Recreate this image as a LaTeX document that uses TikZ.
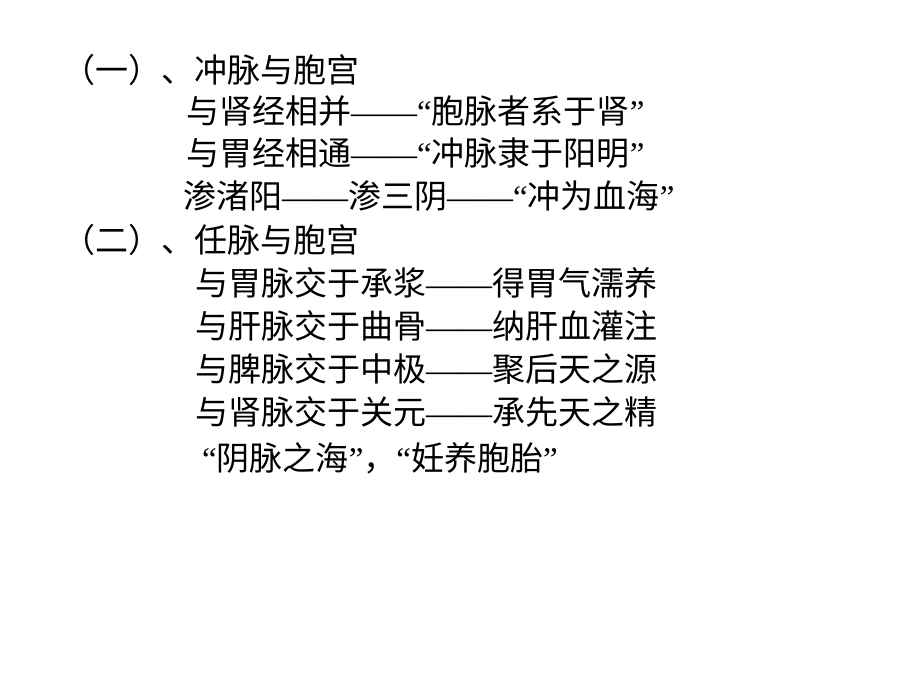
\documentclass[tikz,border=0pt]{standalone}
\usepackage{fontspec}
\setmainfont{Liberation Serif}
\newfontfamily\cjk{Noto Sans CJK SC}
\usetikzlibrary{positioning}
\newcommand{\dsh}{{\rmfamily ——}}
\newcommand{\oq}{{\rmfamily “}}
\newcommand{\cq}{{\rmfamily ”}}

\begin{document}
\begin{tikzpicture}[x=1pt, y=-1pt,
    line/.style={anchor=west, inner sep=0pt, font=\cjk\fontsize{33}{33}\selectfont}
]
\useasboundingbox (0,0) rectangle (920,690);

% 冲脉
\node[line] (head1) at (62,70) {（一）、冲脉与胞宫};
\node[line] (l1a) at (186,111) {与肾经相并\dsh\oq 胞脉者系于肾\cq};
\node[line] (l1b) at (186,153) {与胃经相通\dsh\oq 冲脉隶于阳明\cq};
\node[line] (l1c) at (183,196) {渗渚阳\dsh 渗三阴\dsh\oq 冲为血海\cq};

% 任脉
\node[line] (head2) at (62,240) {（二）、任脉与胞宫};
\node[line] (l2a) at (195,283) {与胃脉交于承浆\dsh 得胃气濡养};
\node[line] (l2b) at (195,326) {与肝脉交于曲骨\dsh 纳肝血灌注};
\node[line] (l2c) at (195,369) {与脾脉交于中极\dsh 聚后天之源};
\node[line] (l2d) at (195,412) {与肾脉交于关元\dsh 承先天之精};
\node[line] (l2e) at (202,458) {\oq 阴脉之海\cq，\oq 妊养胞胎\cq};

\end{tikzpicture}
\end{document}
